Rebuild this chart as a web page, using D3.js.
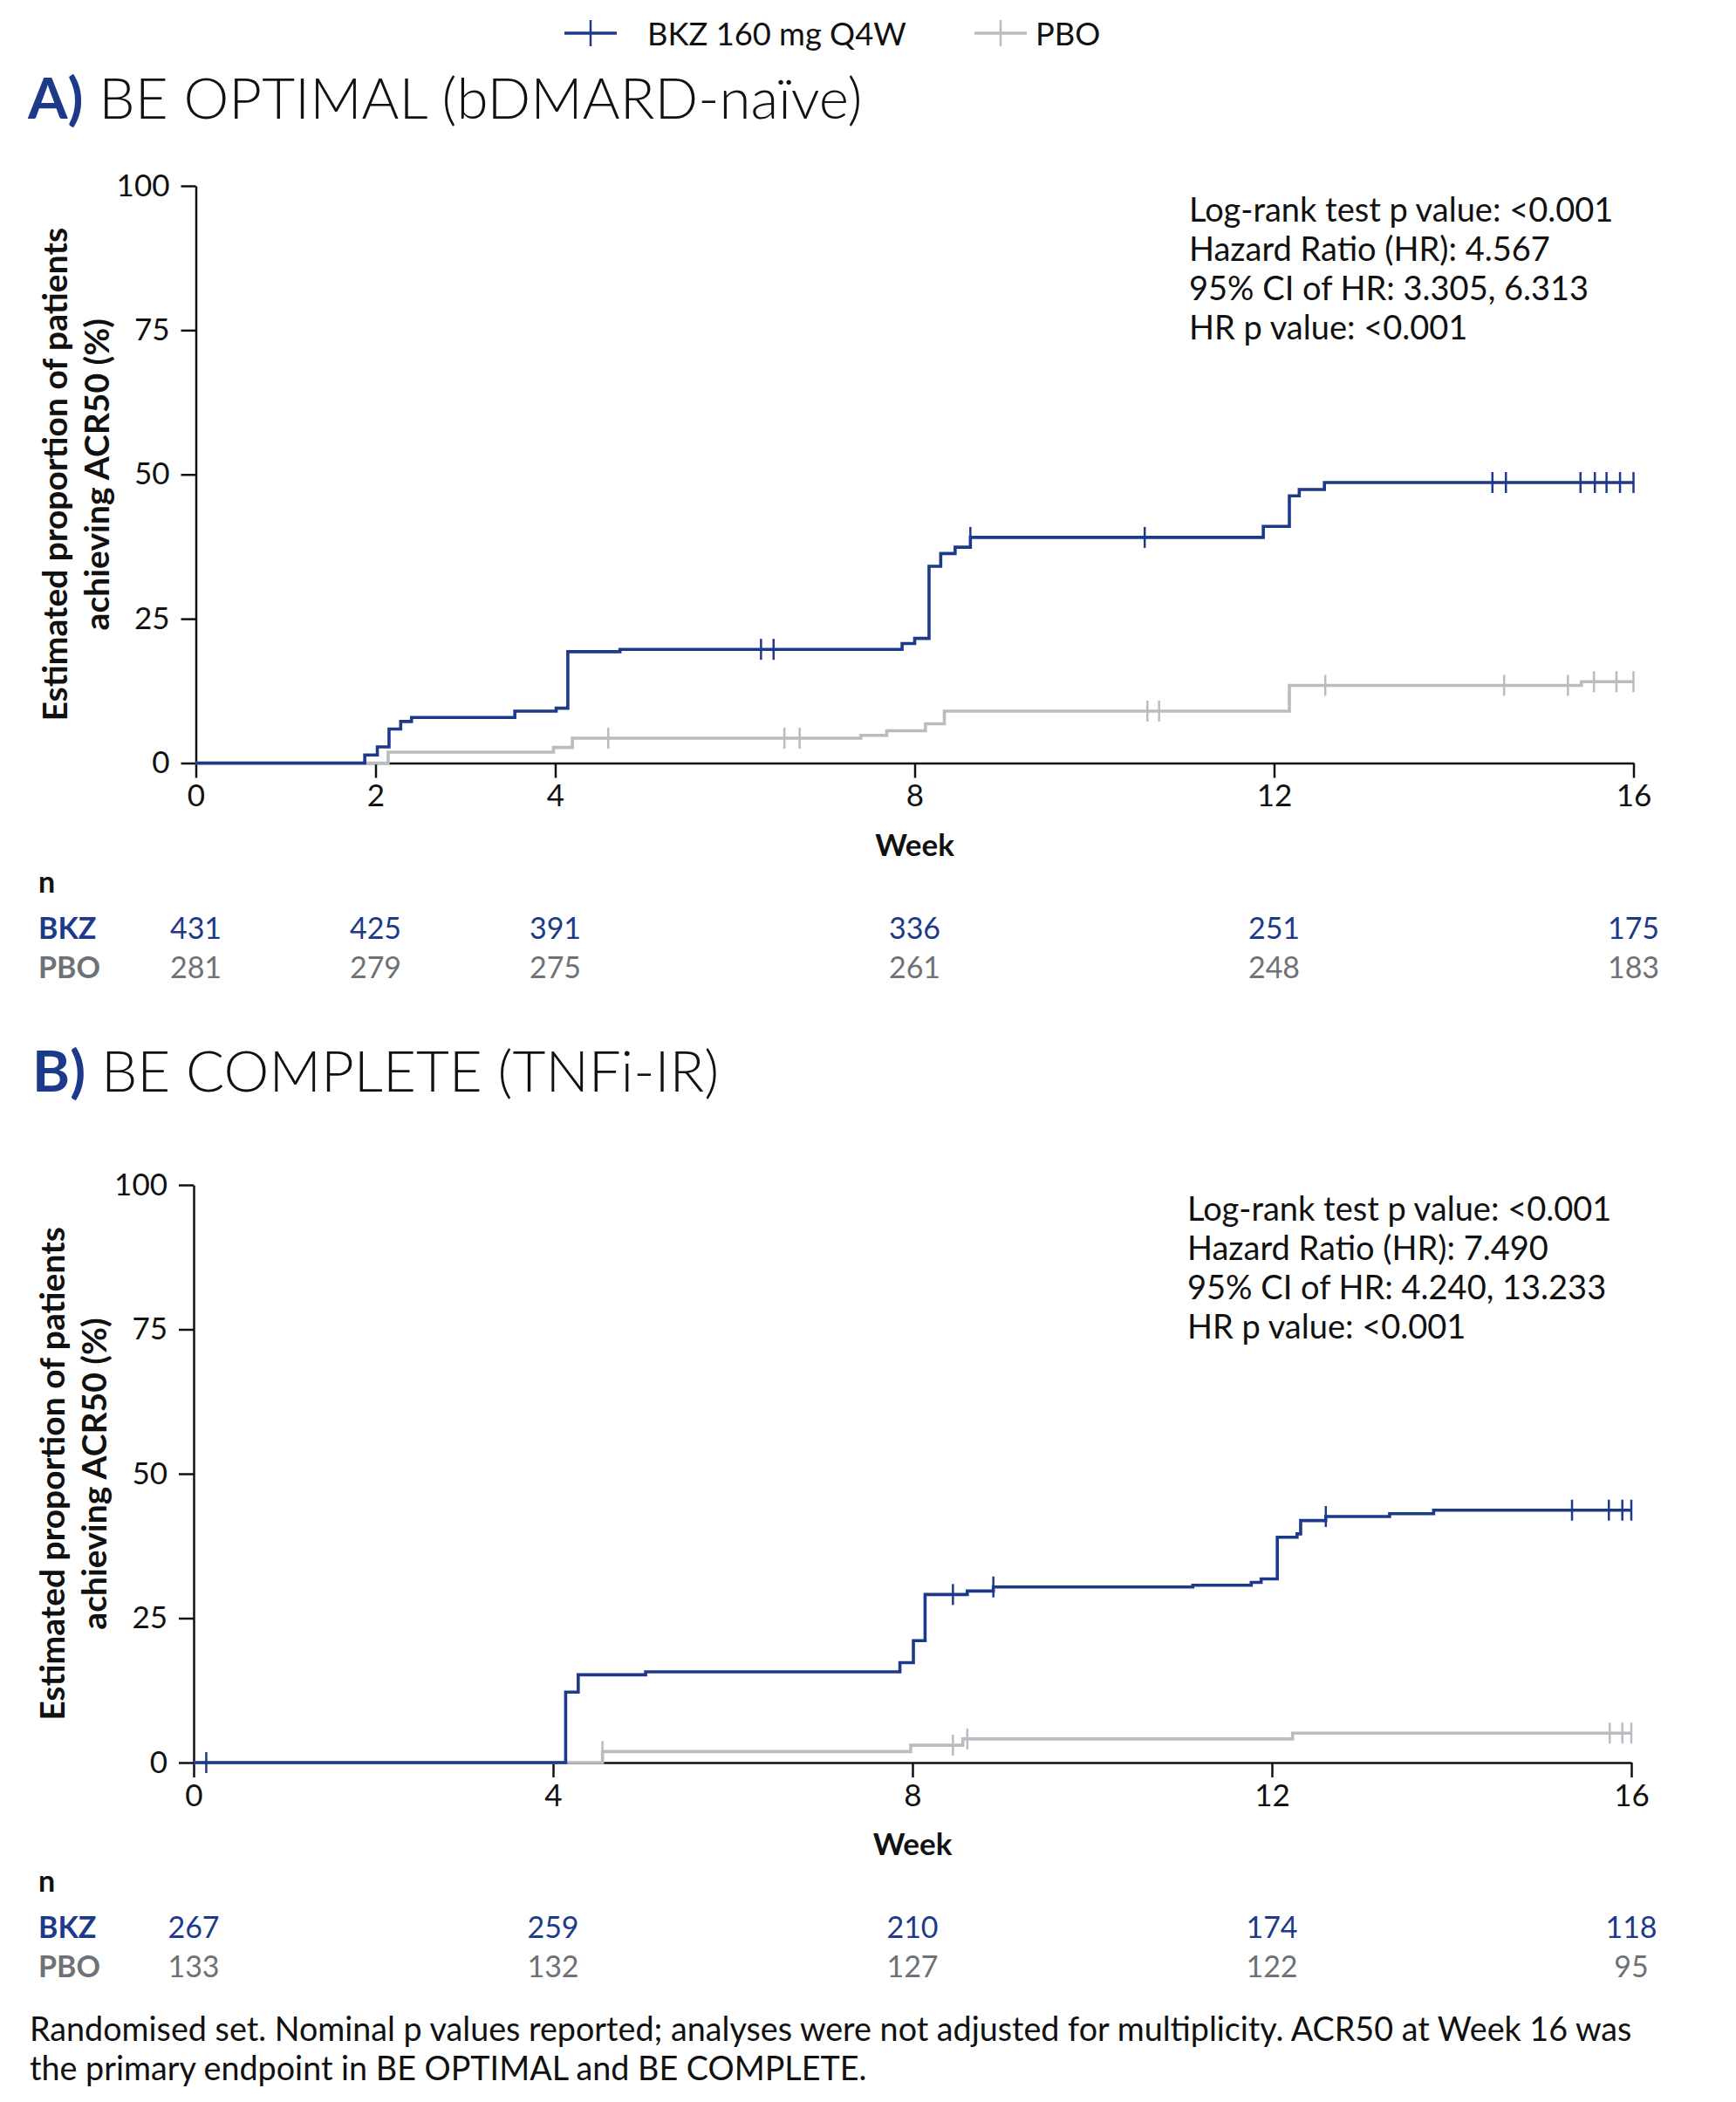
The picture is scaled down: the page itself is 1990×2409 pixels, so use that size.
<!DOCTYPE html>
<html>
<head>
<meta charset="utf-8">
<script src="https://cdn.jsdelivr.net/npm/d3@7"></script>
<style>
  body { margin: 0; background: #fff; }
  svg { display: block; font-family: Lato, 'Open Sans', sans-serif; }
  .axis path, .axis line { stroke: #111; stroke-width: 2.5; }
  .axis text { font-size: 35px; fill: #111; font-family: Lato, sans-serif; }
  .km { fill: none; stroke-width: 3.6; }
</style>
</head>
<body>
<svg id="chart"></svg>
<script>
const SIZE = { width: 1990, height: 2409 };
const BLUE = '#1d3a8a';
const GREY_LINE = '#b9bcc0';
const GREY_TEXT = '#6e7276';

const yTicks = [0, 25, 50, 75, 100];

// panel A: BE OPTIMAL
const aTicks = [0, 2, 4, 8, 12, 16];
const aBkzSteps = [[0, 0], [1.88, 1.4], [2.02, 2.8], [2.15, 5.9], [2.28, 7.2], [2.4, 7.9], [3.55, 9.0], [4.01, 9.5],
  [4.14, 19.3], [4.72, 19.7], [7.86, 20.7], [8.0, 21.6], [8.16, 34.1], [8.29, 36.3], [8.45, 37.4], [8.62, 39.1],
  [11.88, 41.0], [12.17, 46.3], [12.28, 47.4], [12.56, 48.6]];
const aBkzCensor = [6.29, 6.43, 8.62, 10.56, 14.43, 14.58, 15.41, 15.57, 15.7, 15.85, 16];
const aPboSteps = [[0, 0], [2.14, 1.9], [3.98, 2.7], [4.19, 4.3], [7.4, 4.8], [7.69, 5.6], [8.12, 6.8], [8.33, 9.0],
  [12.17, 13.45], [15.42, 14.1]];
const aPboCensor = [4.59, 6.55, 6.72, 10.59, 10.72, 12.57, 14.56, 15.27, 15.56, 15.81, 16];
const aBkzN = [431, 425, 391, 336, 251, 175];
const aPboN = [281, 279, 275, 261, 248, 183];
const aStats = ['Log-rank test p value: <0.001', 'Hazard Ratio (HR): 4.567', '95% CI of HR: 3.305, 6.313', 'HR p value: <0.001'];

// panel B: BE COMPLETE
const bTicks = [0, 4, 8, 12, 16];
const bBkzSteps = [[0, 0], [4.14, 12.2], [4.28, 15.2], [5.03, 15.7], [7.86, 17.3], [8.01, 21.1], [8.14, 29.1],
  [8.61, 29.7], [8.9, 30.4], [11.12, 30.7], [11.77, 31.2], [11.88, 31.8], [12.06, 39.0], [12.28, 39.6],
  [12.32, 41.9], [12.6, 42.6], [13.31, 43.1], [13.8, 43.7]];
const bBkzCensor = [0.14, 8.45, 8.9, 12.6, 15.34, 15.75, 15.9, 16];
const bPboSteps = [[0, 0], [4.55, 1.9], [7.98, 3.0], [8.56, 4.1], [12.23, 5.1]];
const bPboCensor = [4.55, 8.45, 8.61, 15.76, 15.9, 16];
const bBkzN = [267, 259, 210, 174, 118];
const bPboN = [133, 132, 127, 122, 95];
const bStats = ['Log-rank test p value: <0.001', 'Hazard Ratio (HR): 7.490', '95% CI of HR: 4.240, 13.233', 'HR p value: <0.001'];

const svg = d3.select('#chart').attr('width', SIZE.width).attr('height', SIZE.height);

const valueAt = (steps, t) => {
  let v = 0;
  steps.forEach(([w, p]) => { if (w <= t) v = p; });
  return v;
};

const drawLegend = function() {
  const items = [
    { label: 'BKZ 160 mg Q4W', color: BLUE, cx: 677, tx: 742 },
    { label: 'PBO', color: GREY_LINE, cx: 1147, tx: 1187 }
  ];
  const g = svg.append('g').attr('class', 'legend');
  items.forEach(d => {
    g.append('line').attr('x1', d.cx - 30).attr('x2', d.cx + 30).attr('y1', 38).attr('y2', 38)
      .attr('stroke', d.color).attr('stroke-width', 3.5);
    g.append('line').attr('x1', d.cx).attr('x2', d.cx).attr('y1', 23).attr('y2', 53)
      .attr('stroke', d.color).attr('stroke-width', 2.5);
    g.append('text').attr('x', d.tx).attr('y', 52).attr('font-size', 36.3).attr('fill', '#111').text(d.label);
  });
};

const drawPanel = function(p) {
  const x = d3.scaleLinear().domain([0, 16]).range([p.left, p.right]);
  const y = d3.scaleLinear().domain([0, 100]).range([p.bottom, p.top]);

  const title = svg.append('text').attr('x', p.titleX).attr('y', p.titleY).attr('font-size', 65.5).attr('fill', '#111');
  title.append('tspan').attr('fill', BLUE).attr('font-weight', 700).text(p.letter + ')');
  title.append('tspan').attr('font-weight', 300).text(' ' + p.title);

  svg.append('g').attr('class', 'axis')
    .attr('transform', `translate(${p.left},0)`)
    .call(d3.axisLeft(y).tickValues(yTicks).tickSize(17).tickPadding(13).tickSizeOuter(0));

  svg.append('g').attr('class', 'axis')
    .attr('transform', `translate(0,${p.bottom})`)
    .call(d3.axisBottom(x).tickValues(p.ticks).tickSize(17).tickPadding(8).tickSizeOuter(0));

  const ylab = svg.append('text')
    .attr('transform', `translate(${p.left - 148},${(p.top + p.bottom) / 2}) rotate(-90)`)
    .attr('text-anchor', 'middle').attr('font-size', 39).attr('font-weight', 700).attr('fill', '#111');
  ylab.append('tspan').attr('x', 0).attr('y', 0).text('Estimated proportion of patients');
  ylab.append('tspan').attr('x', 0).attr('y', 48).text('achieving ACR50 (%)');

  svg.append('text').attr('x', x(8)).attr('y', p.bottom + 106).attr('text-anchor', 'middle')
    .attr('font-size', 35).attr('font-weight', 700).attr('fill', '#111').text('Week');

  const stepLine = d3.line().curve(d3.curveStepAfter).x(d => x(d[0])).y(d => y(d[1]));
  const series = [
    { steps: p.pbo, censor: p.pboCensor, color: GREY_LINE },
    { steps: p.bkz, censor: p.bkzCensor, color: BLUE }
  ];
  series.forEach(s => {
    const pts = s.steps.concat([[16, s.steps[s.steps.length - 1][1]]]);
    svg.append('path').attr('class', 'km').attr('stroke', s.color).attr('d', stepLine(pts));
    svg.append('g').selectAll('line').data(s.censor).join('line')
      .attr('x1', d => x(d)).attr('x2', d => x(d))
      .attr('y1', d => y(valueAt(s.steps, d)) - 12).attr('y2', d => y(valueAt(s.steps, d)) + 12)
      .attr('stroke', s.color).attr('stroke-width', 2.5);
  });

  svg.append('g').selectAll('text').data(p.stats).join('text')
    .attr('x', p.statsX).attr('y', (d, i) => p.top + 41 + i * 45)
    .attr('font-size', 38).attr('fill', '#111').text(d => d);

  svg.append('text').attr('x', 44).attr('y', p.bottom + 148).attr('font-size', 34)
    .attr('font-weight', 700).attr('fill', '#111').text('n');
  const rows = [
    { label: 'BKZ', n: p.bkzN, color: BLUE, dy: 201 },
    { label: 'PBO', n: p.pboN, color: GREY_TEXT, dy: 246 }
  ];
  rows.forEach(r => {
    svg.append('text').attr('x', 44).attr('y', p.bottom + r.dy).attr('font-size', 34)
      .attr('font-weight', 700).attr('fill', r.color).text(r.label);
    svg.append('g').selectAll('text').data(r.n).join('text')
      .attr('x', (d, i) => x(p.ticks[i])).attr('y', p.bottom + r.dy)
      .attr('text-anchor', 'middle').attr('font-size', 34).attr('fill', r.color).text(d => d);
  });
};

drawLegend();

drawPanel({
  letter: 'A', title: 'BE OPTIMAL (bDMARD-naïve)', titleX: 32, titleY: 136,
  left: 224.5, right: 1872.5, top: 213, bottom: 874.5, ticks: aTicks,
  bkz: aBkzSteps, bkzCensor: aBkzCensor, pbo: aPboSteps, pboCensor: aPboCensor,
  bkzN: aBkzN, pboN: aPboN, stats: aStats, statsX: 1363
});

drawPanel({
  letter: 'B', title: 'BE COMPLETE (TNFi-IR)', titleX: 37, titleY: 1251,
  left: 222, right: 1870, top: 1358, bottom: 2020, ticks: bTicks,
  bkz: bBkzSteps, bkzCensor: bBkzCensor, pbo: bPboSteps, pboCensor: bPboCensor,
  bkzN: bBkzN, pboN: bPboN, stats: bStats, statsX: 1361
});

const foot = svg.append('text').attr('x', 34).attr('font-size', 37.7).attr('fill', '#111');
foot.append('tspan').attr('x', 34).attr('y', 2339)
  .text('Randomised set. Nominal p values reported; analyses were not adjusted for multiplicity. ACR50 at Week 16 was');
foot.append('tspan').attr('x', 34).attr('y', 2384).text('the primary endpoint in BE OPTIMAL and BE COMPLETE.');
</script>
</body>
</html>
